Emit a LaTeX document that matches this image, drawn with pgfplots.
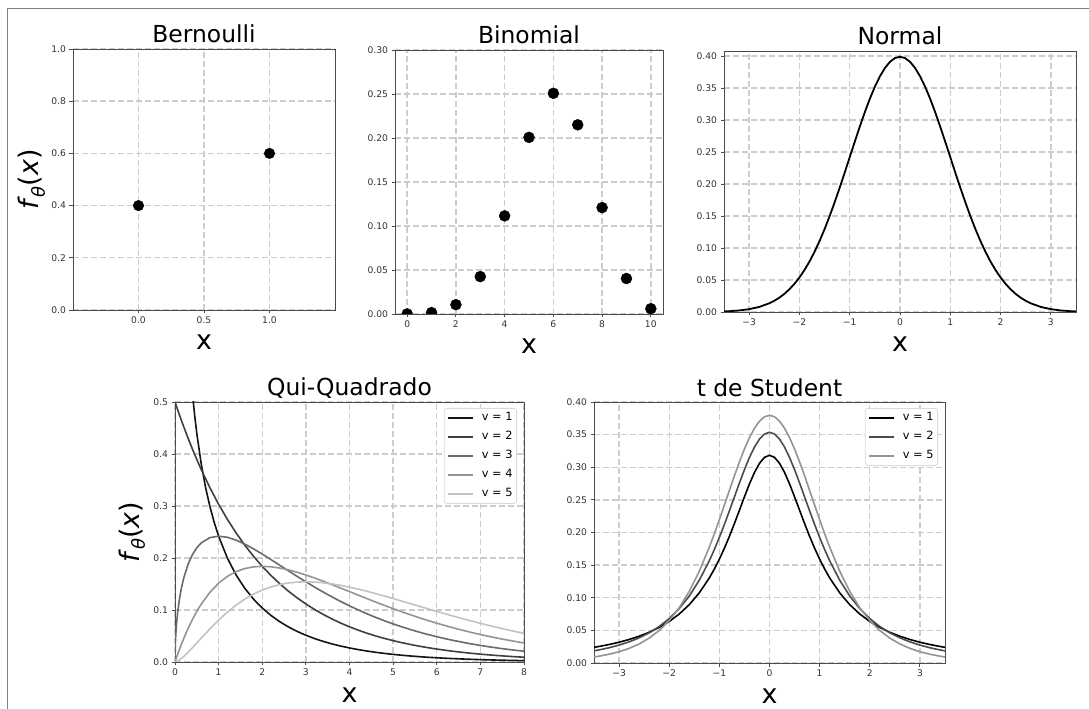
\documentclass[border=0pt]{standalone}
\usepackage{fontspec}
\setmainfont{DejaVu Sans}
\usepackage{pgfplots}
\pgfplotsset{compat=1.18}
\usepackage{pgfplotstable}

\definecolor{cA}{gray}{0.08}
\definecolor{cB}{gray}{0.25}
\definecolor{cC}{gray}{0.42}
\definecolor{cD}{gray}{0.58}
\definecolor{cE}{gray}{0.76}
\definecolor{tB}{gray}{0.30}
\definecolor{tC}{gray}{0.58}

\pgfplotstableread{
x y
-3.5 0.00087
-3.4 0.00123
-3.2 0.00238
-3.0 0.00443
-2.8 0.00792
-2.6 0.01358
-2.5 0.01753
-2.4 0.02239
-2.3 0.02833
-2.2 0.03547
-2.1 0.04398
-2.0 0.05399
-1.9 0.06562
-1.8 0.07895
-1.7 0.09405
-1.6 0.11092
-1.5 0.12952
-1.4 0.14973
-1.3 0.17137
-1.2 0.19419
-1.1 0.21785
-1.0 0.24197
-0.9 0.26609
-0.8 0.28969
-0.7 0.31225
-0.6 0.33322
-0.5 0.35207
-0.4 0.36827
-0.3 0.38139
-0.2 0.39104
-0.1 0.39695
0.0 0.39894
0.1 0.39695
0.2 0.39104
0.3 0.38139
0.4 0.36827
0.5 0.35207
0.6 0.33322
0.7 0.31225
0.8 0.28969
0.9 0.26609
1.0 0.24197
1.1 0.21785
1.2 0.19419
1.3 0.17137
1.4 0.14973
1.5 0.12952
1.6 0.11092
1.7 0.09405
1.8 0.07895
1.9 0.06562
2.0 0.05399
2.1 0.04398
2.2 0.03547
2.3 0.02833
2.4 0.02239
2.5 0.01753
2.6 0.01358
2.8 0.00792
3.0 0.00443
3.2 0.00238
3.4 0.00123
3.5 0.00087
}\normtab

\pgfplotstableread{
x t1 t2 t5
-3.5 0.02402 0.01859 0.00925
-3.4 0.02534 0.02003 0.01045
-3.2 0.02832 0.02335 0.01341
-3.0 0.03183 0.02741 0.01729
-2.8 0.03601 0.03240 0.02241
-2.6 0.04102 0.03857 0.02918
-2.4 0.04709 0.04626 0.03810
-2.2 0.05451 0.05590 0.04981
-2.0 0.06366 0.06804 0.06509
-1.8 0.07507 0.08337 0.08482
-1.6 0.08941 0.10269 0.10982
-1.4 0.10754 0.12690 0.14073
-1.2 0.13045 0.15673 0.17766
-1.1 0.14403 0.17388 0.19814
-1.0 0.15915 0.19245 0.21968
-0.9 0.17586 0.21229 0.24194
-0.8 0.19409 0.23313 0.26448
-0.7 0.21363 0.25450 0.28679
-0.6 0.23405 0.27582 0.30814
-0.5 0.25465 0.29630 0.32792
-0.4 0.27441 0.31500 0.34538
-0.3 0.29203 0.33096 0.35982
-0.2 0.30607 0.34321 0.37064
-0.1 0.31516 0.35092 0.37734
0.0 0.31831 0.35355 0.37961
0.1 0.31516 0.35092 0.37734
0.2 0.30607 0.34321 0.37064
0.3 0.29203 0.33096 0.35982
0.4 0.27441 0.31500 0.34538
0.5 0.25465 0.29630 0.32792
0.6 0.23405 0.27582 0.30814
0.7 0.21363 0.25450 0.28679
0.8 0.19409 0.23313 0.26448
0.9 0.17586 0.21229 0.24194
1.0 0.15915 0.19245 0.21968
1.1 0.14403 0.17388 0.19814
1.2 0.13045 0.15673 0.17766
1.4 0.10754 0.12690 0.14073
1.6 0.08941 0.10269 0.10982
1.8 0.07507 0.08337 0.08482
2.0 0.06366 0.06804 0.06509
2.2 0.05451 0.05590 0.04981
2.4 0.04709 0.04626 0.03810
2.6 0.04102 0.03857 0.02918
2.8 0.03601 0.03240 0.02241
3.0 0.03183 0.02741 0.01729
3.2 0.02832 0.02335 0.01341
3.4 0.02534 0.02003 0.01045
3.5 0.02402 0.01859 0.00925
}\ttab

\pgfplotstableread{
x c2 c3 c4 c5
0 0.50000 0 0 0
0.01 0.49751 0.03970 0.00249 0.00013
0.03 0.49256 0.06807 0.00739 0.00068
0.06 0.48522 0.09483 0.01456 0.00190
0.1 0.47561 0.12000 0.02378 0.00400
0.15 0.46387 0.14335 0.03479 0.00717
0.2 0.45242 0.16143 0.04524 0.01076
0.3 0.43035 0.18807 0.06455 0.01881
0.4 0.40937 0.20658 0.08187 0.02754
0.5 0.38940 0.21970 0.09735 0.03662
0.6 0.37041 0.22893 0.11112 0.04579
0.8 0.33516 0.23919 0.13406 0.06378
1.0 0.30327 0.24197 0.15163 0.08066
1.2 0.27441 0.23984 0.16464 0.09594
1.4 0.24829 0.23441 0.17380 0.10939
1.6 0.22466 0.22674 0.17973 0.12093
1.8 0.20329 0.21761 0.18296 0.13057
2.0 0.18394 0.20756 0.18394 0.13837
2.2 0.16644 0.19697 0.18308 0.14444
2.4 0.15060 0.18615 0.18072 0.14892
2.6 0.13627 0.17531 0.17715 0.15194
2.8 0.12330 0.16462 0.17262 0.15365
3.0 0.11157 0.15418 0.16735 0.15418
3.2 0.10095 0.14408 0.16152 0.15369
3.4 0.09134 0.13439 0.15528 0.15231
3.6 0.08265 0.12512 0.14877 0.15014
3.8 0.07478 0.11632 0.14209 0.14734
4.0 0.06767 0.10798 0.13534 0.14397
4.2 0.06123 0.10012 0.12858 0.14017
4.4 0.05540 0.09272 0.12188 0.13599
4.6 0.05013 0.08578 0.11530 0.13153
4.8 0.04536 0.07929 0.10886 0.12686
5.0 0.04104 0.07322 0.10261 0.12203
5.2 0.03714 0.06757 0.09656 0.11712
5.4 0.03360 0.06230 0.09073 0.11214
5.6 0.03041 0.05741 0.08513 0.10717
5.8 0.02751 0.05287 0.07978 0.10222
6.0 0.02489 0.04865 0.07468 0.09730
6.2 0.02252 0.04475 0.06983 0.09248
6.4 0.02038 0.04114 0.06522 0.08776
6.6 0.01844 0.03780 0.06086 0.08316
6.8 0.01669 0.03472 0.05673 0.07870
7.0 0.01510 0.03187 0.05284 0.07436
7.2 0.01366 0.02925 0.04918 0.07020
7.4 0.01236 0.02683 0.04574 0.06618
7.6 0.01119 0.02460 0.04250 0.06232
7.8 0.01012 0.02255 0.03947 0.05863
8.0 0.00916 0.02067 0.03663 0.05512
}\chitab

\pgfplotstableread{
x c1
0.3 0.62690
0.35 0.56608
0.4 0.51644
0.45 0.47489
0.5 0.43939
0.6 0.38154
0.7 0.33601
0.8 0.29898
0.9 0.26814
1.0 0.24197
1.2 0.19987
1.4 0.16743
1.6 0.14172
1.8 0.12089
2.0 0.10378
2.2 0.08953
2.4 0.07756
2.6 0.06743
2.8 0.05879
3.0 0.05139
3.2 0.04503
3.4 0.03953
3.6 0.03476
3.8 0.03061
4.0 0.02700
4.2 0.02384
4.4 0.02107
4.6 0.01865
4.8 0.01652
5.0 0.01465
5.2 0.01299
5.4 0.01154
5.6 0.01025
5.8 0.00911
6.0 0.00811
6.2 0.00722
6.4 0.00643
6.6 0.00573
6.8 0.00511
7.0 0.00455
7.2 0.00406
7.4 0.00363
7.6 0.00324
7.8 0.00289
8.0 0.00258
}\chione

\newcommand{\flabel}{\textit{f}\raisebox{-0.22em}{\fontsize{18}{20}\selectfont\textit{θ}}(\textit{x})}

\pgfplotsset{
  panel/.style={
    scale only axis, anchor=south west,
    axis line style={black!70, line width=0.9bp},
    tick style={black!70, line width=0.9bp},
    tick align=outside, major tick length=3.5bp,
    xtick pos=left, ytick pos=left,
    grid=major,
    major grid style={color=black!20, line width=1.4bp, dash pattern=on 6bp off 3bp},
    tick label style={font=\fontsize{9.2}{10}\selectfont, text=black!80},
    /pgf/number format/assume math mode=true,
    every axis title/.style={font=\fontsize{23.5}{26}\selectfont, at={(0.5,1)}, anchor=base, yshift=6bp},
    every axis x label/.style={font=\fontsize{27}{30}\selectfont, at={(0.5,0)}, anchor=base, yshift=-40bp},
    every axis y label/.style={font=\fontsize{27}{30}\selectfont, at={(-0.13,0.5)}, anchor=base, rotate=90},
    clip marker paths=true,
  },
  leg/.style={
    legend style={at={(1,1)}, anchor=north east, xshift=-7bp, yshift=-6bp,
      draw=black!15, line width=0.8bp, rounded corners=2.5bp, fill=white,
      inner sep=3bp, font=\fontsize{11.4}{13}\selectfont, row sep=6bp,
      nodes={inner sep=1bp, text height=8.5bp, text depth=2.5bp},
      /tikz/every odd column/.style={column sep=7bp}},
    legend cell align=left,
    legend image code/.code={\draw[##1] (0bp,0bp) -- (25bp,0bp);},
  },
}

\begin{document}
\begin{tikzpicture}
\useasboundingbox (0bp,0bp) rectangle (1089bp,709bp);
\fill[white] (0bp,0bp) rectangle (1089bp,709bp);
\draw[black!50, line width=1bp] (7.3bp,0bp) -- (7.3bp,700.7bp) -- (1089bp,700.7bp);

% Bernoulli
\begin{axis}[panel, at={(73bp,399bp)}, width=262bp, height=261bp,
  xmin=-0.5, xmax=1.5, ymin=0, ymax=1,
  xtick={0,0.5,1}, xticklabels={0.0,0.5,1.0},
  ytick={0,0.2,0.4,0.6,0.8,1}, yticklabels={0.0,0.2,0.4,0.6,0.8,1.0},
  title={Bernoulli}, xlabel={x}, ylabel={\flabel}]
\addplot[only marks, mark=*, mark size=5.3bp, black] coordinates {(0,0.4) (1,0.6)};
\end{axis}

% Binomial
\begin{axis}[panel, at={(395bp,395bp)}, width=268bp, height=264bp,
  xmin=-0.5, xmax=10.5, ymin=0, ymax=0.30,
  xtick={0,2,4,6,8,10},
  ytick={0,0.05,0.10,0.15,0.20,0.25,0.30}, yticklabels={0.00,0.05,0.10,0.15,0.20,0.25,0.30},
  title={Binomial}, xlabel={x}]
\addplot[only marks, mark=*, mark size=5.5bp, black] coordinates {
(0,0.0001) (1,0.0016) (2,0.0106) (3,0.0425) (4,0.1115) (5,0.2007)
(6,0.2508) (7,0.2150) (8,0.1209) (9,0.0403) (10,0.0060)};
\end{axis}

% Normal
\begin{axis}[panel, at={(724bp,397bp)}, width=352bp, height=261bp,
  xmin=-3.5, xmax=3.5, ymin=0, ymax=0.408,
  xtick={-3,-2,-1,0,1,2,3}, xticklabels={−3,−2,−1,0,1,2,3},
  ytick={0,0.05,0.10,0.15,0.20,0.25,0.30,0.35,0.40}, yticklabels={0.00,0.05,0.10,0.15,0.20,0.25,0.30,0.35,0.40},
  title={Normal}, xlabel={x}]
\addplot[black, line width=1.8bp] table[x=x, y=y] {\normtab};
\end{axis}

% Chi-square
\begin{axis}[panel, leg, at={(175bp,47bp)}, width=349bp, height=260bp,
  xmin=0, xmax=8, ymin=0, ymax=0.5,
  xtick={0,1,2,3,4,5,6,7,8},
  ytick={0,0.1,0.2,0.3,0.4,0.5}, yticklabels={0.0,0.1,0.2,0.3,0.4,0.5},
  title={Qui-Quadrado}, xlabel={x}, ylabel={\flabel},
  every axis y label/.append style={at={(-0.103,0.5)}}]
\addplot[cA, line width=1.6bp] table[x=x, y=c1] {\chione};
\addlegendentry{v = 1}
\addplot[cB, line width=1.6bp] table[x=x, y=c2] {\chitab};
\addlegendentry{v = 2}
\addplot[cC, line width=1.6bp] table[x=x, y=c3] {\chitab};
\addlegendentry{v = 3}
\addplot[cD, line width=1.6bp] table[x=x, y=c4] {\chitab};
\addlegendentry{v = 4}
\addplot[cE, line width=1.6bp] table[x=x, y=c5] {\chitab};
\addlegendentry{v = 5}
\end{axis}

% t de Student
\begin{axis}[panel, leg, at={(594bp,46bp)}, width=351bp, height=261bp,
  xmin=-3.5, xmax=3.5, ymin=0, ymax=0.40,
  xtick={-3,-2,-1,0,1,2,3}, xticklabels={−3,−2,−1,0,1,2,3},
  ytick={0,0.05,0.10,0.15,0.20,0.25,0.30,0.35,0.40}, yticklabels={0.00,0.05,0.10,0.15,0.20,0.25,0.30,0.35,0.40},
  title={t de Student}, xlabel={x}]
\addplot[black, line width=1.6bp] table[x=x, y=t1] {\ttab};
\addlegendentry{v = 1}
\addplot[tB, line width=1.6bp] table[x=x, y=t2] {\ttab};
\addlegendentry{v = 2}
\addplot[tC, line width=1.6bp] table[x=x, y=t5] {\ttab};
\addlegendentry{v = 5}
\end{axis}
\end{tikzpicture}
\end{document}
